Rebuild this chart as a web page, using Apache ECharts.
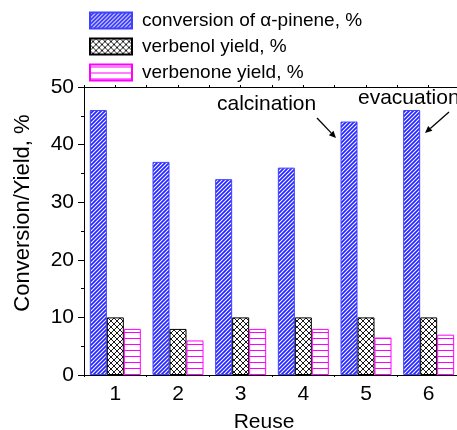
<!DOCTYPE html>
<html><head><meta charset="utf-8">
<script src="https://cdn.jsdelivr.net/npm/echarts@6/dist/echarts.min.js"></script>
<style>html,body{margin:0;padding:0;background:#fff}#c{width:457px;height:430px}</style>
</head><body><div id="c"></div>
<script>
var categories = ['1', '2', '3', '4', '5', '6'];
var conversion = [46, 37, 34, 36, 44, 46];
var verbenol = [10, 8, 10, 10, 10, 10];
var verbenone = [8, 6, 8, 8, 6.5, 7];
var seriesNames = ['conversion of \u03b1-pinene, %', 'verbenol yield, %', 'verbenone yield, %'];
var yTicks = [0, 10, 20, 30, 40, 50];

function makePattern(kind) {
  var c = document.createElement('canvas');
  var ctx = c.getContext('2d');
  if (kind === 'diag') {
    var s = 4; c.width = s; c.height = s;
    ctx.fillStyle = '#ffffff'; ctx.fillRect(0, 0, s, s);
    ctx.strokeStyle = '#2626ff'; ctx.lineWidth = 1.8;
    ctx.beginPath();
    ctx.moveTo(-1, s + 1); ctx.lineTo(s + 1, -1);
    ctx.moveTo(-1, 1); ctx.lineTo(1, -1);
    ctx.moveTo(s - 1, s + 1); ctx.lineTo(s + 1, s - 1);
    ctx.stroke();
  } else if (kind === 'cross') {
    var s = 6; c.width = s; c.height = s;
    ctx.fillStyle = '#ffffff'; ctx.fillRect(0, 0, s, s);
    ctx.strokeStyle = '#000000'; ctx.lineWidth = 0.9;
    ctx.beginPath();
    ctx.moveTo(0, 0); ctx.lineTo(s, s);
    ctx.moveTo(0, s); ctx.lineTo(s, 0);
    ctx.stroke();
  } else {
    var s = 6; c.width = s; c.height = s;
    ctx.fillStyle = '#ffffff'; ctx.fillRect(0, 0, s, s);
    ctx.fillStyle = '#ff00ff'; ctx.fillRect(0, 2, s, 1);
  }
  return { image: c, repeat: 'repeat' };
}

var chart = echarts.init(document.getElementById('c'), null, { renderer: 'canvas' });
var FONT = 'Liberation Sans, Arial, sans-serif';

function arrow(x1, y1, x2, y2) {
  var a = Math.atan2(y2 - y1, x2 - x1), L = 7, W = 3.2;
  var bx = x2 - L * Math.cos(a), by = y2 - L * Math.sin(a);
  var px = -Math.sin(a) * W, py = Math.cos(a) * W;
  return [
    { type: 'line', shape: { x1: x1, y1: y1, x2: bx, y2: by }, style: { stroke: '#000', lineWidth: 1.3 } },
    { type: 'polygon', shape: { points: [[x2, y2], [bx + px, by + py], [bx - px, by - py]] }, style: { fill: '#000' } }
  ];
}

var graphics = [
  { type: 'text', left: 217, top: 94, style: { text: 'calcination', font: '21px ' + FONT, fill: '#000' } },
  { type: 'text', left: 358, top: 88, style: { text: 'evacuation', font: '21px ' + FONT, fill: '#000' } }
].concat(arrow(317, 118, 336, 138)).concat(arrow(449, 112, 425, 133));

var axisLineStyle = { color: '#000', width: 1 };

chart.setOption({
  animation: false,
  backgroundColor: '#fff',
  textStyle: { fontFamily: FONT },
  grid: { left: 84, top: 87, bottom: 55, right: -3, containLabel: false, outerBoundsMode: 'none' },
  legend: {
    orient: 'vertical', left: 89, top: 11, padding: 0,
    itemWidth: 42, itemHeight: 16, itemGap: 7,
    icon: 'rect',
    textStyle: { fontSize: 19, color: '#000', fontFamily: FONT, padding: [0, 0, 0, 5] },
    data: seriesNames
  },
  xAxis: [
    {
      type: 'category', data: categories, position: 'bottom',
      name: 'Reuse', nameLocation: 'middle', nameGap: 37,
      nameTextStyle: { fontSize: 21, color: '#000', padding: [0, 16, 0, 0] },
      axisLine: { lineStyle: axisLineStyle },
      axisTick: { alignWithLabel: true, length: 5, lineStyle: axisLineStyle },
      axisLabel: { fontSize: 21, color: '#000', margin: 9 },
      splitLine: { show: false }
    },
    {
      type: 'value', position: 'bottom', min: 0, max: 6, interval: 1,
      axisLine: { show: false },
      axisTick: { show: true, length: 2, lineStyle: axisLineStyle },
      axisLabel: { show: false }, splitLine: { show: false }
    },
    {
      type: 'value', position: 'top', min: 0, max: 6, interval: 0.5,
      axisLine: { show: true, lineStyle: axisLineStyle },
      axisTick: { show: true, length: 2, lineStyle: axisLineStyle },
      axisLabel: { show: false }, splitLine: { show: false }
    }
  ],
  yAxis: {
    type: 'value', min: yTicks[0], max: yTicks[yTicks.length - 1], interval: 10,
    name: 'Conversion/Yield, %', nameLocation: 'middle', nameGap: 50, nameRotate: 90,
    nameTextStyle: { fontSize: 22, color: '#000', padding: [0, 0, 0, 36] },
    axisLine: { show: true, lineStyle: axisLineStyle },
    axisTick: { show: true, length: 6, lineStyle: axisLineStyle },
    minorTick: { show: true, splitNumber: 2, length: 3, lineStyle: axisLineStyle },
    axisLabel: { fontSize: 21, color: '#000', margin: 10 },
    splitLine: { show: false }
  },
  series: [
    {
      name: seriesNames[0], type: 'bar', data: conversion, xAxisIndex: 0,
      barWidth: 17, barGap: '0%',
      itemStyle: { color: makePattern('diag'), borderColor: '#4040ff', borderWidth: 1 }
    },
    {
      name: seriesNames[1], type: 'bar', data: verbenol, xAxisIndex: 0,
      barWidth: 17, barGap: '0%',
      itemStyle: { color: makePattern('cross'), borderColor: '#000', borderWidth: 1 }
    },
    {
      name: seriesNames[2], type: 'bar', data: verbenone, xAxisIndex: 0,
      barWidth: 17, barGap: '0%',
      itemStyle: { color: makePattern('horiz'), borderColor: '#ff00ff', borderWidth: 1 }
    }
  ],
  graphic: graphics
});
</script></body></html>
